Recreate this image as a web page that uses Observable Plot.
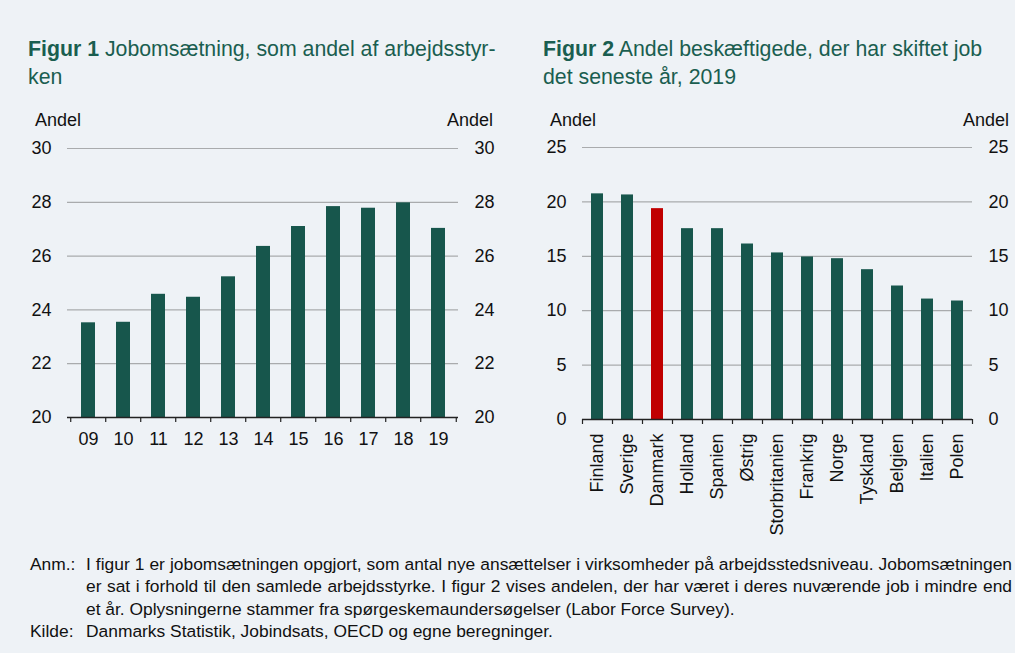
<!DOCTYPE html>
<html>
<head>
<meta charset="utf-8">
<script src="https://cdn.jsdelivr.net/npm/d3@7"></script>
<script src="https://cdn.jsdelivr.net/npm/@observablehq/plot@0.6"></script>
<style>
  html, body { margin: 0; padding: 0; }
  body { background: #eef2f6; font-family: "Liberation Sans", Arial, sans-serif; }
  #root { position: relative; width: 1015px; height: 653px; overflow: hidden; background: #eef2f6; }
  .title { position: absolute; font-size: 21.3px; line-height: 27.6px; color: #1a5e50; white-space: nowrap; }
  .title b { font-weight: bold; }
  .andel { position: absolute; font-size: 18px; line-height: 18px; color: #111; }
  .chart { position: absolute; }
  #notes { position: absolute; left: 30px; top: 553px; width: 985px; font-size: 17.4px; line-height: 22.3px; color: #111; }
  .row { display: flex; }
  .lab { width: 56px; flex: none; }
  .txt { width: 926px; flex: none; }
  .j { text-align: justify; text-align-last: justify; white-space: nowrap; }
</style>
</head>
<body>
<div id="root">
  <div class="title" style="left:28px; top:36px;"><b>Figur 1</b> Jobomsætning, som andel af arbejdsstyr-<br>ken</div>
  <div class="title" style="left:543px; top:36px;"><b>Figur 2</b> Andel beskæftigede, der har skiftet job<br>det seneste år, 2019</div>
  <div class="andel" style="left:35px; top:111px;">Andel</div>
  <div class="andel" style="left:447px; top:111px;">Andel</div>
  <div class="andel" style="left:550px; top:111px;">Andel</div>
  <div class="andel" style="left:963px; top:111px;">Andel</div>
  <div class="chart" id="c1" style="left:0px; top:130px;"></div>
  <div class="chart" id="c2" style="left:520px; top:130px;"></div>
  <div id="notes">
    <div class="row"><div class="lab">Anm.:</div><div class="txt">
      <div class="j">I figur 1 er jobomsætningen opgjort, som antal nye ansættelser i virksomheder på arbejdsstedsniveau. Jobomsætningen</div>
      <div class="j">er sat i forhold til den samlede arbejdsstyrke. I figur 2 vises andelen, der har været i deres nuværende job i mindre end</div>
      <div>et år. Oplysningerne stammer fra spørgeskemaundersøgelser (Labor Force Survey).</div>
    </div></div>
    <div class="row"><div class="lab">Kilde:</div><div class="txt">Danmarks Statistik, Jobindsats, OECD og egne beregninger.</div></div>
  </div>
</div>
<script>
// ---- Data ----
const years = ["09", "10", "11", "12", "13", "14", "15", "16", "17", "18", "19"];
const turnover = [23.52, 23.54, 24.58, 24.47, 25.23, 26.36, 27.10, 27.84, 27.78, 27.98, 27.03];
const yTicks1 = [20, 22, 24, 26, 28, 30];

const countries = ["Finland", "Sverige", "Danmark", "Holland", "Spanien", "Østrig", "Storbritanien", "Frankrig", "Norge", "Tyskland", "Belgien", "Italien", "Polen"];
const shares = [20.74, 20.64, 19.38, 17.54, 17.54, 16.13, 15.31, 14.94, 14.78, 13.77, 12.27, 11.07, 10.89];
const yTicks2 = [0, 5, 10, 15, 20, 25];
const highlight = "Danmark";

// ---- Styles ----
const GREEN = "#17564c";
const RED = "#c00000";
const GRID = "#a9abad";
const AXIS = "#222";
const FONT = "'Liberation Sans', Arial, sans-serif";

function boundaryTicks(cats, step, plotH) {
  const common = {x: d => d, insetTop: plotH, insetBottom: -5, stroke: AXIS, strokeWidth: 1.2};
  return [
    Plot.ruleX(cats, {...common, dx: -step / 2}),
    Plot.ruleX([cats[cats.length - 1]], {...common, dx: step / 2})
  ];
}

// ---- Chart 1 ----
{
  const W = 505, H = 330, mt = 18, mb = 43, ml = 67, mr = 47;
  const data = years.map((y, i) => ({year: y, value: turnover[i]}));
  const step = (W - ml - mr) / years.length;
  const chart = Plot.plot({
    width: W, height: H, marginTop: mt, marginBottom: mb, marginLeft: ml, marginRight: mr,
    style: {background: "transparent", fontSize: "18px", fontFamily: FONT, color: "#111"},
    x: {domain: years, paddingInner: 0.61, paddingOuter: 0.305, tickSize: 0, tickPadding: 15, label: null},
    y: {domain: [yTicks1[0], yTicks1[yTicks1.length - 1]], ticks: yTicks1, tickSize: 0, tickPadding: 16, axis: "both", label: null},
    marks: [
      Plot.ruleY(yTicks1.slice(1), {stroke: GRID, strokeWidth: 1.2}),
      Plot.barY(data, {x: "year", y1: yTicks1[0], y2: "value", fill: GREEN}),
      Plot.ruleY([yTicks1[0]], {stroke: AXIS, strokeWidth: 1.3}),
      ...boundaryTicks(years, step, H - mt - mb)
    ]
  });
  document.getElementById("c1").appendChild(chart);
}

// ---- Chart 2 ----
{
  const W = 495, H = 415, mt = 17, mb = 126, ml = 62, mr = 43;
  const data = countries.map((c, i) => ({country: c, value: shares[i]}));
  const step = (W - ml - mr) / countries.length;
  const chart = Plot.plot({
    width: W, height: H, marginTop: mt, marginBottom: mb, marginLeft: ml, marginRight: mr,
    style: {background: "transparent", fontSize: "18px", fontFamily: FONT, color: "#111", overflow: "visible"},
    x: {domain: countries, paddingInner: 0.6, paddingOuter: 0.3, tickSize: 0, tickPadding: 14, tickRotate: -90, label: null},
    y: {domain: [yTicks2[0], yTicks2[yTicks2.length - 1]], ticks: yTicks2, tickSize: 0, tickPadding: 16, axis: "both", label: null},
    marks: [
      Plot.ruleY(yTicks2.slice(1), {stroke: GRID, strokeWidth: 1.2}),
      Plot.barY(data, {x: "country", y: "value", fill: d => d.country === highlight ? RED : GREEN}),
      Plot.ruleY([yTicks2[0]], {stroke: AXIS, strokeWidth: 1.3}),
      ...boundaryTicks(countries, step, H - mt - mb)
    ]
  });
  document.getElementById("c2").appendChild(chart);
}
</script>
</body>
</html>
